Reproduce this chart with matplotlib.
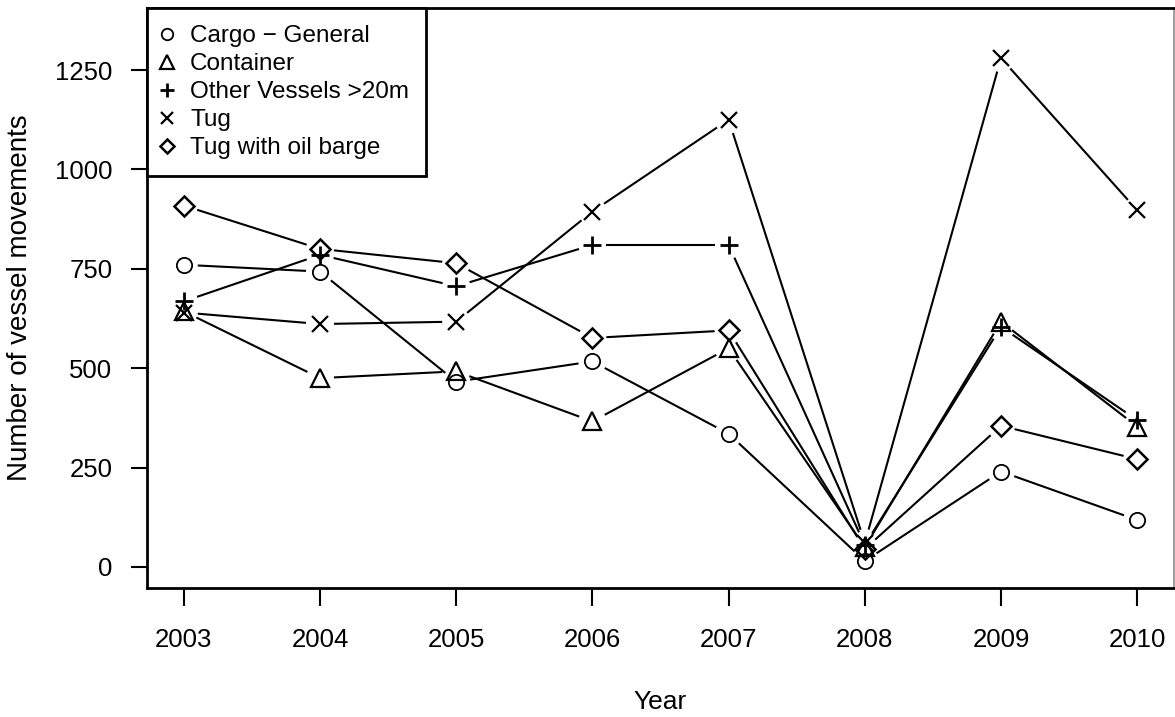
import numpy as np
import matplotlib.pyplot as plt

plt.rcParams['font.family'] = ['Liberation Sans', 'DejaVu Sans']

# values
years = [2003, 2004, 2005, 2006, 2007, 2008, 2009, 2010]
cargo_general = [760, 743, 466, 517, 335, 15, 240, 118]
container = [643, 475, 492, 366, 550, 50, 617, 353]
other_vessels = [668, 785, 706, 810, 810, 55, 604, 369]
tug = [640, 611, 617, 894, 1125, 60, 1280, 897]
tug_oil_barge = [909, 800, 764, 576, 595, 45, 355, 271]

# label, values, marker, size, edge width
series = [
    ('Cargo \u2212 General', cargo_general, 'o', 11, 1.3),
    ('Container', container, '^', 12.5, 1.6),
    ('Other Vessels >20m', other_vessels, '+', 13, 2.0),
    ('Tug', tug, 'x', 11, 1.6),
    ('Tug with oil barge', tug_oil_barge, 'D', 10, 1.8),
]

fig = plt.figure(figsize=(11.75, 7.17), dpi=100)
ax = fig.add_axes([147 / 1175, 1 - 588 / 717, 1027 / 1175, 580 / 717])
ax.set_xlim(2002.73, 2010.27)
ax.set_ylim(-53, 1406)

# R style type="b": segments stop short of each point
gap = 14  # pixels
fig.canvas.draw()
to_px = ax.transData
to_data = ax.transData.inverted()
handles = []
for label, vals, mk, ms, mew in series:
    pts = to_px.transform(np.column_stack([years, vals]))
    for p0, p1 in zip(pts[:-1], pts[1:]):
        d = p1 - p0
        n = np.hypot(*d)
        if n <= 2 * gap:
            continue
        u = d / n
        seg = to_data.transform(np.array([p0 + u * gap, p1 - u * gap]))
        ax.plot(seg[:, 0], seg[:, 1], color='black', lw=1.5, solid_capstyle='butt')
    h, = ax.plot(years, vals, linestyle='none', marker=mk, markersize=ms,
                 markerfacecolor='none', markeredgecolor='black', markeredgewidth=mew,
                 label=label)
    handles.append(h)

ax.set_xticks(years)
ax.set_yticks([0, 250, 500, 750, 1000, 1250])
ax.tick_params(axis='x', length=13, width=1.5, pad=16, labelsize=18.5)
ax.tick_params(axis='y', length=11.5, width=1.5, pad=13.5, labelsize=18.5)
for s in ax.spines.values():
    s.set_linewidth(2)
ax.spines['right'].set_linewidth(1.2)
ax.spines['right'].set_color('0.55')

ax.set_xlabel('Year', fontsize=19)
ax.xaxis.set_label_coords(0.5, (588 - 702) / 580)
ax.xaxis.label.set_va('center')
ax.set_ylabel('Number of vessel movements', fontsize=20)
ax.yaxis.set_label_coords((20 - 147) / 1027, 0.5)
ax.yaxis.label.set(va='center', ha='center', rotation_mode='default')

leg = ax.legend(handles=handles, loc='upper left', borderaxespad=0, fontsize=17.5,
                handlelength=0.25, handletextpad=0.82, labelspacing=0.25,
                borderpad=0.7, markerscale=0.75, fancybox=False, framealpha=1,
                edgecolor='black')
leg.get_frame().set_linewidth(2)

plt.savefig('out.png', dpi=100)
